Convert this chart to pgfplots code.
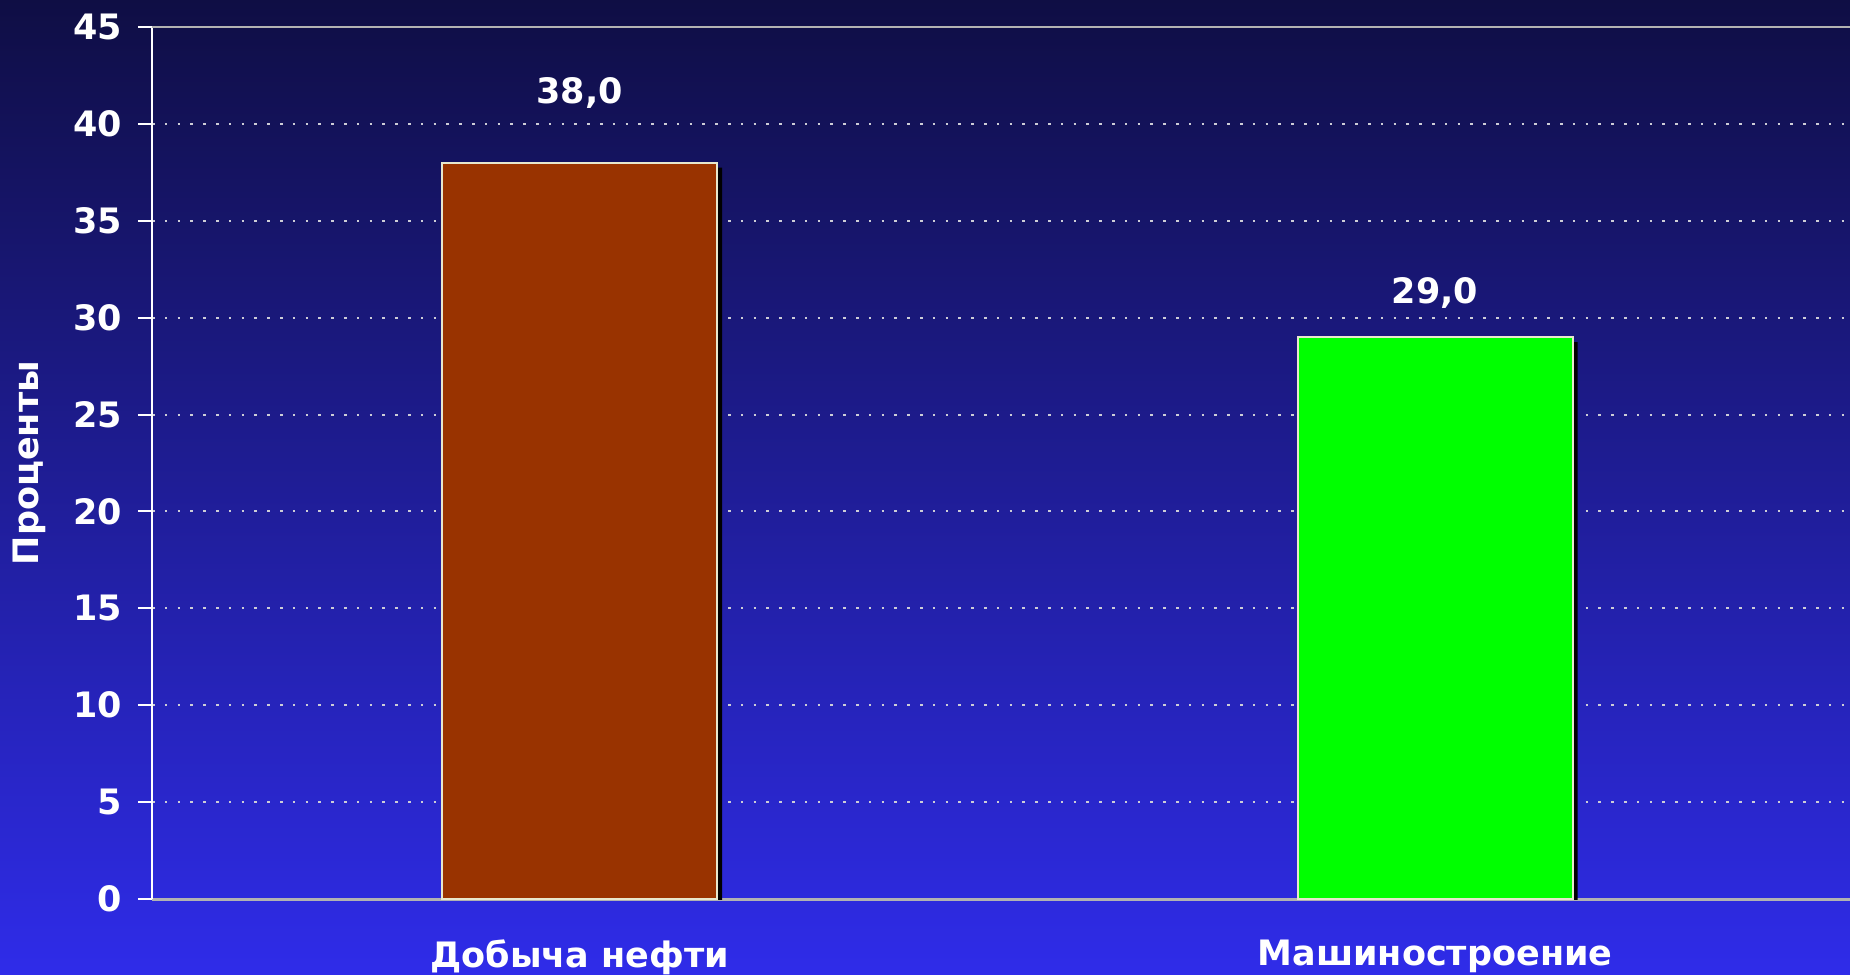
\documentclass[border=0pt]{standalone}
\usepackage{pgfplots}
\pgfplotsset{compat=1.18}
\usepackage{fontspec}
\setmainfont{DejaVu Sans}

\definecolor{bgtop}{RGB}{15,14,68}
\definecolor{bgbot}{RGB}{47,44,233}
\definecolor{oil}{RGB}{153,51,0}
\definecolor{mach}{RGB}{0,255,0}
\definecolor{edge}{RGB}{232,232,205}
\definecolor{gridc}{RGB}{205,205,215}

\newcommand\lbl{\fontsize{17.5pt}{21pt}\selectfont\bfseries}

\begin{document}
\begin{tikzpicture}
\useasboundingbox (0,0) rectangle (925pt,487pt);
\shade[top color=bgtop, bottom color=bgbot] (0,0) rectangle (925pt,487pt);

\begin{axis}[
  at={(76pt,37.5pt)}, anchor=south west,
  scale only axis,
  width=849pt, height=436pt,
  ybar, bar width=137.5pt, bar shift=0pt,
  xmin=-0.5, xmax=1.485,
  ymin=0, ymax=45,
  ytick distance=5,
  xtick={0,1},
  xticklabels={Добыча нефти, Машиностроение},
  xtick style={draw=none},
  ytick pos=left,
  tick align=outside,
  major tick length=7pt,
  y tick style={white, line width=1pt},
  axis lines*=left,
  y axis line style={white, line width=1pt},
  x axis line style={gray!60!white, line width=1.5pt},
  ymajorgrids=true,
  grid style={gridc, line width=1pt, dash pattern=on 1.3pt off 5.1pt},
  /pgf/number format/assume math mode=true,
  tick label style={font=\lbl, text=white},
  yticklabel style={xshift=-4.5pt},
  xticklabel style={yshift=-10pt},
  ylabel={Проценты},
  every axis y label/.style={at={(rel axis cs:0,0.5)}, xshift=-61.5pt,
    rotate=90, anchor=center, font=\lbl, text=white},
  nodes near coords={\pgfmathprintnumber[use comma,fixed,fixed zerofill,precision=1]{\pgfplotspointmeta}},
  every node near coord/.append style={font=\lbl, text=white, anchor=base},
]
% shadows
\addplot[fill=black, draw=none, bar shift=0pt, xshift=2.5pt, yshift=-2.5pt,
  nodes near coords={}] coordinates {(0,38) (1,29)};
\addplot[fill=oil, draw=edge, line width=1pt, bar shift=0pt,
  every node near coord/.append style={yshift=29.5pt}] coordinates {(0,38)};
\addplot[fill=mach, draw=edge, line width=1pt, bar shift=0pt,
  every node near coord/.append style={yshift=17pt}] coordinates {(1,29)};
\draw[gray!60!white, line width=1pt] (rel axis cs:0,1) -- (rel axis cs:1,1);
\end{axis}
\end{tikzpicture}
\end{document}
